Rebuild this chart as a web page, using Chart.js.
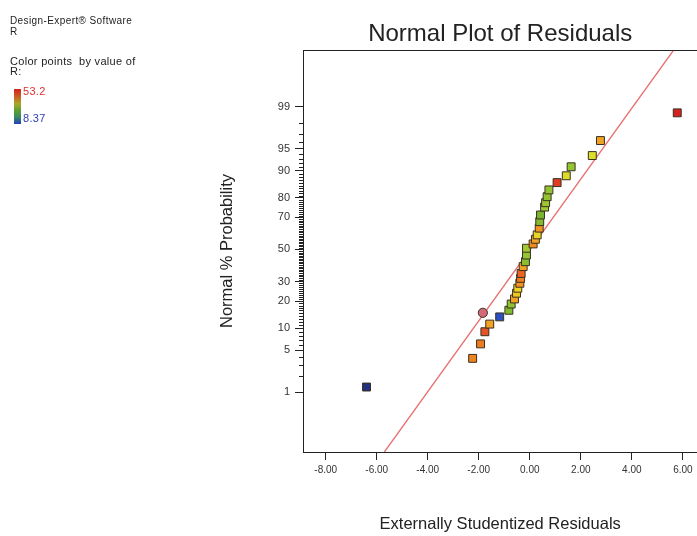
<!DOCTYPE html>
<html>
<head>
<meta charset="utf-8">
<script src="https://cdn.jsdelivr.net/npm/chart.js@4.4.1/dist/chart.umd.min.js"></script>
<style>
  html, body { margin: 0; padding: 0; background: #fff; }
  #wrap { position: relative; width: 697px; height: 536px; overflow: hidden; }
  #c { position: absolute; left: 0; top: 0; }
  .note { position: absolute; font-family: "Liberation Sans", Arial, sans-serif; color: #222; white-space: nowrap; line-height: 11px; }
  .n1 { font-size: 10px; letter-spacing: 0.4px; }
  .n2 { font-size: 11px; letter-spacing: 0.3px; }
  #bar { position: absolute; left: 14px; top: 89px; width: 7px; height: 35px;
         background: linear-gradient(to bottom, #d42020 0%, #c86020 22%, #a8a828 42%, #60a030 60%, #3a8a60 80%, #2040c0 100%); }
</style>
</head>
<body>
<div id="wrap">
  <canvas id="c" width="704" height="536"></canvas>
  <div class="note n1" style="left:10px;top:15px;">Design-Expert® Software</div>
  <div class="note n1" style="left:10px;top:26px;">R</div>
  <div class="note n2" style="left:10px;top:56px;">Color points &nbsp;by value of</div>
  <div class="note n2" style="left:10px;top:66px;">R:</div>
  <div id="bar"></div>
  <div class="note n2" style="left:23px;top:86px;color:#e03030;">53.2</div>
  <div class="note n2" style="left:23px;top:113px;color:#3040b8;">8.37</div>
</div>
<script>
// ---- data ----
const residuals = [-6.40, -2.24, -1.93, -1.76, -1.57, -1.18, -1.84, -0.82, -0.73, -0.60,
                   -0.52, -0.47, -0.39, -0.36, -0.34, -0.26, -0.17, -0.13, -0.13, 0.13,
                    0.22,  0.29,  0.37,  0.39,  0.42,  0.58,  0.62,  0.68,  0.75, 1.07,
                    1.43,  1.62,  2.45,  2.77,  5.78];
const probabilities = [1.25, 3.8, 6.2, 9.0, 11.2, 13.6, 15.1, 16.1, 18.7, 21.0,
                       23.8, 26.4, 29.1, 31.9, 34.8, 39.0, 42.1, 46.4, 50.8, 53.6,
                       56.6, 59.4, 63.6, 67.5, 71.3, 75.5, 77.7, 80.5, 83.4, 86.2,
                       88.5, 91.1, 93.7, 96.2, 98.7];
const pointColors = ['#22307e', '#ee8420', '#f07c20', '#e25424', '#f2a224', '#2a50c0', '#d46a78', '#82ba30', '#90c232', '#f2a224',
                     '#f0c822', '#eed424', '#f29424', '#f07e22', '#ea6424', '#f2a224', '#8abe30', '#96c432', '#a2c834', '#f08a22',
                     '#f2a224', '#e8d424', '#f09424', '#82ba30', '#7ab430', '#a2c834', '#9ec632', '#90c232', '#94c232', '#e03c22',
                     '#dcdc26', '#92c632', '#d8e028', '#f0a224', '#d42222'];
const circleMarks = [6];           // index of the point drawn as a circle
const fitResiduals = [-5.70, 5.64]; // reference line end points
const fitZ = [-3.30, 3.25];
const xTicks = [-8, -6, -4, -2, 0, 2, 4, 6];
const yMajorPct = [1, 5, 10, 20, 30, 50, 70, 80, 90, 95, 99];
const xRange = [-8.89, 6.57];
const zRange = [-3.30, 3.25];

// inverse standard normal CDF (probability scale)
function probit(p) {
  const a=[-3.969683028665376e+01,2.209460984245205e+02,-2.759285104469687e+02,1.383577518672690e+02,-3.066479806614716e+01,2.506628277459239e+00];
  const b=[-5.447609879822406e+01,1.615858368580409e+02,-1.556989798598866e+02,6.680131188771972e+01,-1.328068155288572e+01];
  const c=[-7.784894002430293e-03,-3.223964580411365e-01,-2.400758277161838e+00,-2.549671324249783e+00,4.374664141464968e+00,2.938163982698783e+00];
  const d=[7.784695709041462e-03,3.224671290700398e-01,2.445134137142996e+00,3.754408661907416e+00];
  const pl = 0.02425, ph = 1 - pl;
  let q, r;
  if (p < pl) { q = Math.sqrt(-2*Math.log(p)); return (((((c[0]*q+c[1])*q+c[2])*q+c[3])*q+c[4])*q+c[5])/((((d[0]*q+d[1])*q+d[2])*q+d[3])*q+1); }
  if (p <= ph) { q = p - 0.5; r = q*q; return (((((a[0]*r+a[1])*r+a[2])*r+a[3])*r+a[4])*r+a[5])*q/(((((b[0]*r+b[1])*r+b[2])*r+b[3])*r+b[4])*r+1); }
  q = Math.sqrt(-2*Math.log(1-p)); return -(((((c[0]*q+c[1])*q+c[2])*q+c[3])*q+c[4])*q+c[5])/((((d[0]*q+d[1])*q+d[2])*q+d[3])*q+1);
}

const points = residuals.map((x, i) => ({ x: x, y: probit(probabilities[i] / 100) }));
const styles = residuals.map((x, i) => circleMarks.includes(i) ? 'circle' : 'rect');
const radii = residuals.map((x, i) => circleMarks.includes(i) ? 4.6 : 5.6);
const fitLine = fitResiduals.map((x, i) => ({ x: x, y: fitZ[i] }));

const FONT = "'Liberation Sans', Arial, sans-serif";

const framePlugin = {
  id: 'frame',
  afterDatasetsDraw(chart) {
    const { ctx, chartArea, scales } = chart;
    ctx.save();
    ctx.strokeStyle = '#222';
    ctx.lineWidth = 1;
    ctx.beginPath();
    ctx.moveTo(chartArea.left, chartArea.top + 0.5);
    ctx.lineTo(chartArea.right, chartArea.top + 0.5);
    ctx.stroke();
    // minor probability ticks
    const y = scales.y;
    ctx.beginPath();
    for (let p = 1; p <= 99; p++) {
      if (yMajorPct.includes(p)) continue;
      const py = Math.round(y.getPixelForValue(probit(p / 100))) + 0.5;
      ctx.moveTo(chartArea.left - 4, py);
      ctx.lineTo(chartArea.left, py);
    }
    ctx.stroke();
    ctx.restore();
  }
};

new Chart(document.getElementById('c'), {
  type: 'scatter',
  data: {
    datasets: [
      {
        data: points,
        pointStyle: styles,
        pointRadius: radii,
        pointHoverRadius: radii,
        pointBackgroundColor: pointColors,
        pointBorderColor: '#3a3020',
        pointBorderWidth: 1,
        showLine: false
      },
      {
        data: fitLine,
        showLine: true,
        borderColor: '#e87070',
        borderWidth: 1.3,
        pointRadius: 0,
        fill: false
      }
    ]
  },
  options: {
    responsive: false,
    animation: false,
    events: [],
    layout: { padding: 0 },
    plugins: {
      legend: { display: false },
      tooltip: { enabled: false },
      title: {
        display: true,
        text: 'Normal Plot of Residuals',
        fullSize: false,
        color: '#222',
        font: { family: FONT, size: 24, weight: 'normal' },
        padding: { top: 20, bottom: 1.2 }
      }
    },
    scales: {
      x: {
        type: 'linear',
        min: xRange[0], max: xRange[1],
        afterBuildTicks(s) { s.ticks = xTicks.map(v => ({ value: v })); },
        afterFit(s) { s.height = 84; s.paddingLeft = 0; s.paddingRight = 0; },
        ticks: {
          autoSkip: false, maxRotation: 0, padding: 4,
          color: '#333', font: { family: FONT, size: 10 },
          callback: v => v.toFixed(2)
        },
        grid: { drawOnChartArea: false, tickLength: 8, tickColor: '#222', tickWidth: 1 },
        border: { display: true, color: '#222', width: 1 },
        title: {
          display: true, text: 'Externally Studentized Residuals', color: '#222',
          font: { family: FONT, size: 16.5 }, padding: { top: 0, bottom: 2 }
        }
      },
      y: {
        type: 'linear',
        min: zRange[0], max: zRange[1],
        afterBuildTicks(s) { s.ticks = yMajorPct.map(p => ({ value: probit(p / 100) })); },
        afterFit(s) { s.width = 303; s.paddingTop = 0; s.paddingBottom = 0; },
        ticks: {
          autoSkip: false, padding: 5,
          color: '#333', font: { family: FONT, size: 11 },
          callback: (v, i) => String(yMajorPct[i])
        },
        grid: { drawOnChartArea: false, tickLength: 8, tickColor: '#222', tickWidth: 1 },
        border: { display: true, color: '#222', width: 1 },
        title: {
          display: true, text: 'Normal % Probability', color: '#222',
          font: { family: FONT, size: 16.5 }, padding: { top: 218, bottom: 0 }
        }
      }
    }
  },
  plugins: [framePlugin]
});
</script>
</body>
</html>
